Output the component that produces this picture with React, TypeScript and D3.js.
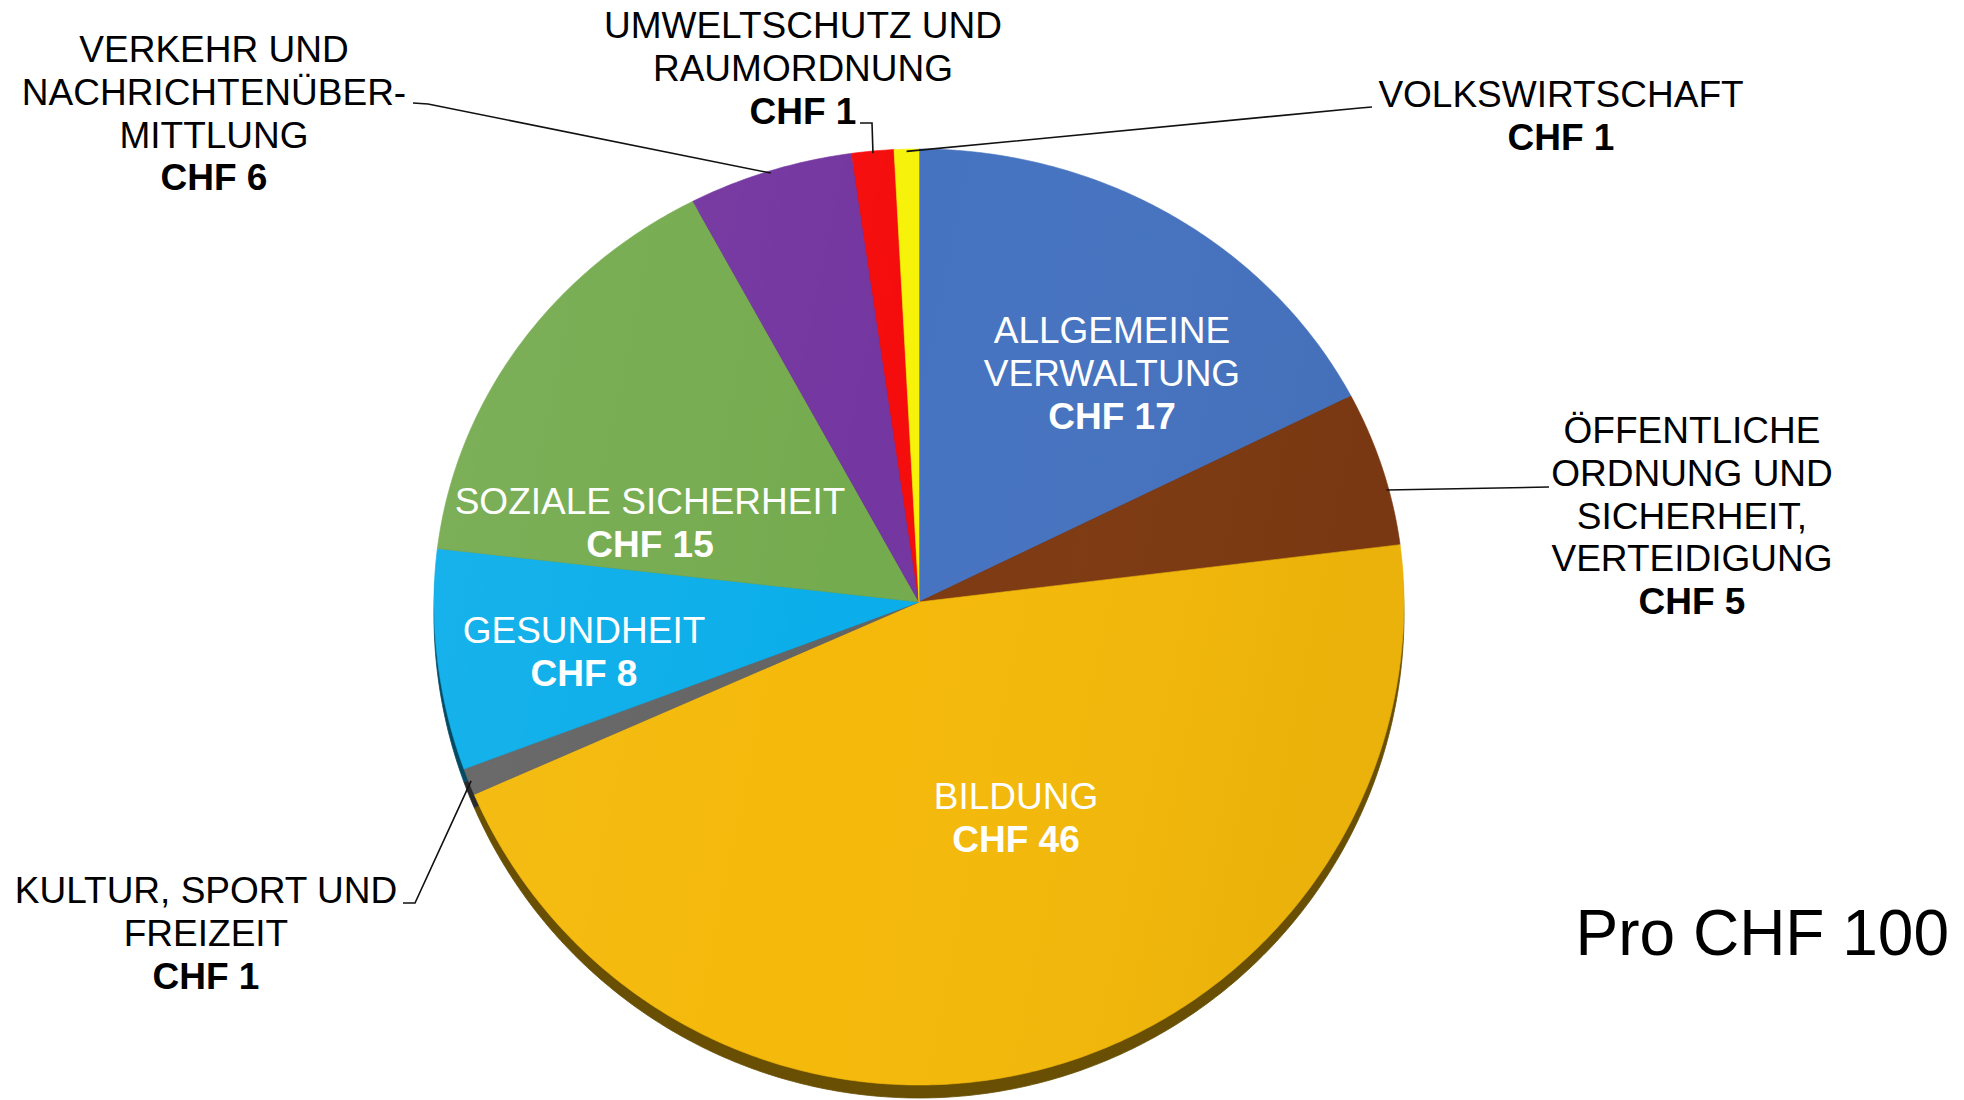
import React from "react";
import * as d3 from "d3";

const categories = [
  "Allgemeine Verwaltung",
  "Öffentliche Ordnung und Sicherheit, Verteidigung",
  "Bildung",
  "Kultur, Sport und Freizeit",
  "Gesundheit",
  "Soziale Sicherheit",
  "Verkehr und Nachrichtenübermittlung",
  "Umweltschutz und Raumordnung",
  "Volkswirtschaft",
];
const values = [17.49, 5.49, 45.5, 0.9, 7.5, 15.4, 5.5, 1.4, 0.82];
const labelLines = [
  ["ALLGEMEINE", "VERWALTUNG"],
  ["ÖFFENTLICHE", "ORDNUNG UND", "SICHERHEIT,", "VERTEIDIGUNG"],
  ["BILDUNG"],
  ["KULTUR, SPORT UND", "FREIZEIT"],
  ["GESUNDHEIT"],
  ["SOZIALE SICHERHEIT"],
  ["VERKEHR UND", "NACHRICHTENÜBER-", "MITTLUNG"],
  ["UMWELTSCHUTZ UND", "RAUMORDNUNG"],
  ["VOLKSWIRTSCHAFT"],
];
const colors = ["#4673C0", "#7E3A12", "#F4B90A", "#646464", "#0BAEEA", "#75AB4F", "#7436A0", "#F50D0D", "#F7F20A"];
const totalLabel = "Pro CHF 100";

// layout (positions only)
const W = 1964, H = 1100;
const CX = 919, CY = 602, RX = 485, RY_TOP = 453, RY_BOT = 483, DEPTH = 13;
const FONT = 37, LH = 42.8;
const labelLayout = [
  { x: 1112, y: 343, inside: true, leader: null, t: 0.5 },
  { x: 1692, y: 443, inside: false, leader: [[1549, 487]], t: 0.64 },
  { x: 1016, y: 809, inside: true, leader: null, t: 0.5 },
  { x: 206, y: 903, inside: false, leader: [[403, 903], [415, 903]], t: 0.5 },
  { x: 584, y: 643, inside: true, leader: null, t: 0.5 },
  { x: 650, y: 514, inside: true, leader: null, t: 0.5 },
  { x: 214, y: 62, inside: false, leader: [[413, 103], [428, 104]], t: 0.5 },
  { x: 803, y: 38, inside: false, leader: [[860, 123], [872, 123]], t: 0.5 },
  { x: 1561, y: 107, inside: false, leader: [[1372, 107], [1360, 108]], t: 0.5 },
];

function proj(a: number, r = 1): [number, number] {
  const s = Math.sin(a), c = Math.cos(a);
  const ry = c > 0 ? RY_TOP : RY_BOT;
  return [CX + RX * r * s, CY - ry * r * c];
}

function slicePath(a0: number, a1: number, dy = 0) {
  const n = Math.max(2, Math.ceil((a1 - a0) / 0.01));
  const pts: [number, number][] = [[CX, CY + dy]];
  for (let i = 0; i <= n; i++) {
    const [x, y] = proj(a0 + ((a1 - a0) * i) / n);
    pts.push([x, y + dy]);
  }
  return d3.line()(pts) + "Z";
}

export default function App() {
  const pie = d3.pie<number>().sort(null).value((d) => d)(values);
  const fmt = (v: number) => "CHF " + Math.round(v);
  return (
    <svg width={W} height={H} style={{ position: "absolute", left: 0, top: 0, background: "#fff" }}
      fontFamily="'Liberation Sans', Arial, sans-serif">
      <defs>
        <linearGradient id="shade" x1="0" y1="0" x2="1" y2="0.2">
          <stop offset="0" stopColor="#fff" stopOpacity={0.06} />
          <stop offset="0.5" stopColor="#fff" stopOpacity={0} />
          <stop offset="1" stopColor="#000" stopOpacity={0.04} />
        </linearGradient>
      </defs>
      {/* sides */}
      {pie.map((p, i) => (
        <path key={"s" + i} d={slicePath(p.startAngle, p.endAngle, DEPTH)}
          fill={d3.color(colors[i])!.darker(2.4).formatHex()} stroke={d3.color(colors[i])!.darker(2.4).formatHex()} strokeWidth={0.8} />
      ))}
      {/* tops */}
      {pie.map((p, i) => (
        <path key={"t" + i} d={slicePath(p.startAngle, p.endAngle)} fill={colors[i]} stroke={colors[i]} strokeWidth={0.6} />
      ))}
      <path d={slicePath(0, 2 * Math.PI)} fill="url(#shade)" />
      {/* leaders */}
      {pie.map((p, i) => {
        const L = labelLayout[i];
        if (!L.leader) return null;
        const a = p.startAngle + (p.endAngle - p.startAngle) * L.t;
        const end = proj(a, 0.995);
        const pts = [...(L.leader as [number, number][]), end];
        return <path key={"l" + i} d={d3.line()(pts as [number, number][])!} fill="none" stroke="#111" strokeWidth={1.6} />;
      })}
      {/* labels */}
      {pie.map((p, i) => {
        const L = labelLayout[i];
        const lines = labelLines[i];
        const fill = L.inside ? "#fff" : "#000";
        return (
          <text key={"x" + i} x={L.x} y={L.y} textAnchor="middle" fontSize={FONT} fill={fill}>
            {lines.map((ln, j) => (
              <tspan key={j} x={L.x} y={L.y + j * LH}>{ln}</tspan>
            ))}
            <tspan x={L.x} y={L.y + lines.length * LH} fontWeight="bold">{fmt(values[i])}</tspan>
          </text>
        );
      })}
      <text x={1949} y={955} textAnchor="end" fontSize={64} fill="#000">{totalLabel}</text>
    </svg>
  );
}
